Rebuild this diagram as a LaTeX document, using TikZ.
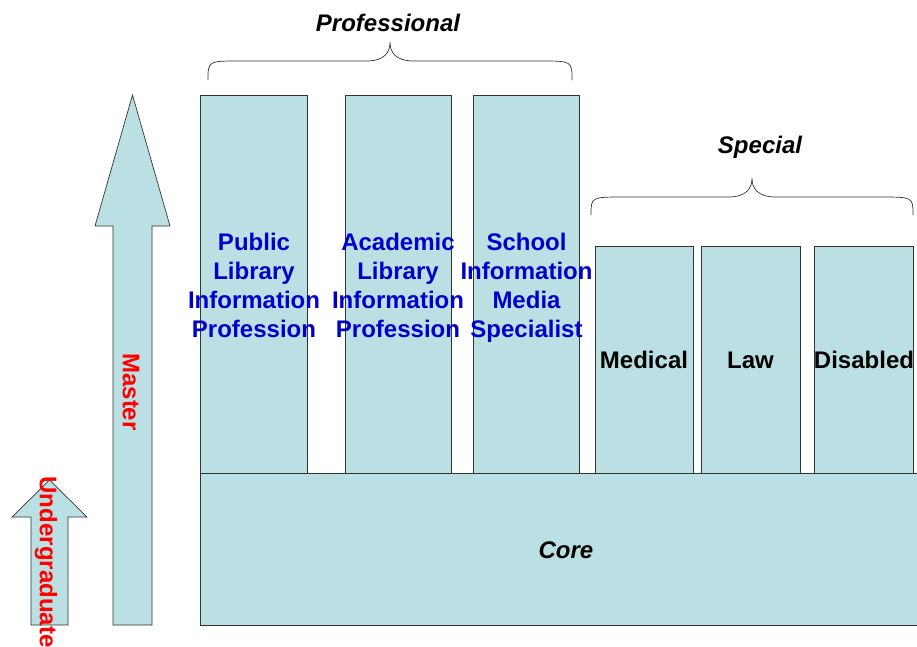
\documentclass[tikz,border=0pt]{standalone}
\usepackage{fontspec}
\setmainfont{Liberation Sans}
\definecolor{boxfill}{HTML}{BBE0E3}
\definecolor{textblue}{HTML}{0000CC}
\definecolor{textred}{HTML}{FF0000}
\definecolor{edge}{HTML}{333333}
\begin{document}
\begin{tikzpicture}[x=1pt,y=-1pt,
  colbox/.style={draw=edge,fill=boxfill,line width=0.7pt,inner sep=0pt,outer sep=0pt,anchor=north west},
  bluelabel/.style={text=textblue,font=\fontsize{24}{29}\selectfont\bfseries,align=center,inner sep=0pt},
  blacklabel/.style={text=black,font=\fontsize{24}{29}\selectfont\bfseries,inner sep=0pt},
  grouplabel/.style={text=black,font=\fontsize{24}{29}\selectfont\bfseries\itshape,inner sep=0pt},
  redlabel/.style={text=textred,font=\fontsize{24}{29}\selectfont\bfseries,inner sep=0pt,rotate=-90},
  arrowshape/.style={draw=edge,fill=boxfill,line width=0.7pt,line join=miter},
  bracestyle/.style={draw=edge,line width=0.7pt}]
\useasboundingbox (0,0) rectangle (917,646);
\clip (0,0) rectangle (917,646);
% arrows
\draw[arrowshape] (113,625) -- (113,226) -- (95,226) -- (132.5,95) -- (170,226) -- (152,226) -- (152,625) -- cycle;
\draw[arrowshape] (31,625) -- (31,517) -- (12,517) -- (49.5,480) -- (87,517) -- (68,517) -- (68,625) -- cycle;
\node[redlabel] (master) at (131,392) {Master};
\node[redlabel] (under) at (46,562) {Undergraduate};
% core
\node[colbox,minimum width=740pt,minimum height=152pt] (core) at (200,473) {};
\node[grouplabel] (corel) at (566,550) {Core};
% professional boxes
\node[colbox,minimum width=107pt,minimum height=378pt] (pub) at (200,95) {};
\node[colbox,minimum width=106pt,minimum height=378pt] (aca) at (345,95) {};
\node[colbox,minimum width=106pt,minimum height=378pt] (sch) at (473,95) {};
\node[bluelabel] (publ) at (254,285.5) {Public\\Library\\Information\\Profession};
\node[bluelabel] (acal) at (398,285.5) {Academic\\Library\\Information\\Profession};
\node[bluelabel] (schl) at (526.5,288) {School\\Information\\Media\\Specialist};
% special boxes
\node[colbox,minimum width=98pt,minimum height=227pt] (med) at (595,246) {};
\node[colbox,minimum width=99pt,minimum height=227pt] (law) at (701,246) {};
\node[colbox,minimum width=99pt,minimum height=227pt] (dis) at (814,246) {};
\node[blacklabel] (medl) at (644,360) {Medical};
\node[blacklabel] (lawl) at (750.5,360) {Law};
\node[blacklabel] (disl) at (864,360) {Disabled};
% braces
\coordinate (pbl) at (208,80);
\coordinate (pbt) at (390,42);
\coordinate (pbr) at (572,80);
\draw[bracestyle] (pbl) .. controls (208,61) .. (240,61) -- (366,61)
  .. controls (385,61) and (390,52) .. (pbt)
  .. controls (390,52) and (395,61) .. (414,61) -- (540,61)
  .. controls (572,61) .. (pbr);
\node[grouplabel] (prof) at (388,23) {Professional};
\coordinate (sbl) at (591,215);
\coordinate (sbt) at (752,178);
\coordinate (sbr) at (913,215);
\draw[bracestyle] (sbl) .. controls (591,197) .. (624,197) -- (728,197)
  .. controls (747,197) and (752,188) .. (sbt)
  .. controls (752,188) and (757,197) .. (776,197) -- (880,197)
  .. controls (913,197) .. (sbr);
\node[grouplabel] (spec) at (760,147) {Special};
\end{tikzpicture}
\end{document}
